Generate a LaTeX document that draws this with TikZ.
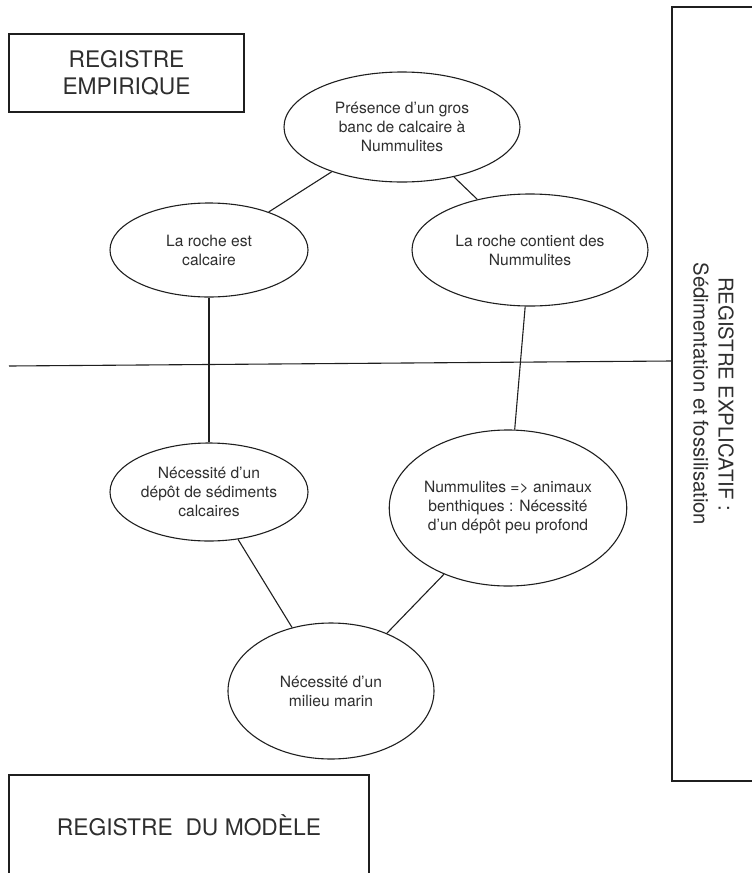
\documentclass[tikz,border=0pt]{standalone}
\usepackage{fontspec}
\setmainfont{TeX Gyre Heros}
\usetikzlibrary{shapes.geometric}
\colorlet{regink}{black!88}
\colorlet{regtext}{black!82}
\tikzset{
  regline/.style={line width=1.1pt,draw=regink},
  regbubble/.style={
    ellipse,
    regline,
    inner sep=0pt,
    align=center,
    text=regtext,
    font=\fontsize{15.6}{19}\selectfont
  },
  regframe/.style={
    rectangle,
    regline,
    inner sep=0pt,
    align=center,
    text=regtext,
    font=\fontsize{22.8}{26.5}\selectfont
  },
  reglink/.style={regline}
}

\begin{document}
\begin{tikzpicture}[x=1pt,y=-1pt]
  \useasboundingbox (0,0) rectangle (752,873);

  % the three registers
  \node[regframe,minimum width=235pt,minimum height=78pt] (empir) at (126.5,73)
    {REGISTRE\\EMPIRIQUE};
  \node[regframe,minimum width=360pt,minimum height=100pt] (model) at (189,825)
    {REGISTRE~ DU MODÈLE};
  \node[regframe,rotate=-90,minimum width=774pt,minimum height=83pt,
        font=\fontsize{20.3}{25}\selectfont] (explic) at (713.5,394)
    {REGISTRE EXPLICATIF :\\Sédimentation et fossilisation};

  \coordinate (sepL) at (9,366);
  \coordinate (sepR) at (672,361);
  \draw[regline] (sepL) -- (sepR);

  % reasoning bubbles
  \node[regbubble,minimum width=236pt,minimum height=110pt] (banc) at (402,127)
    {Présence d’un gros\\banc de calcaire à\\Nummulites};
  \node[regbubble,minimum width=198pt,minimum height=94pt] (calc) at (209,250)
    {La roche est\\calcaire};
  \node[regbubble,minimum width=236pt,minimum height=112pt] (numm) at (530,250)
    {La roche contient des\\Nummulites};
  \node[regbubble,minimum width=198pt,minimum height=98pt] (depot) at (209,492)
    {Nécessité d’un\\dépôt de sédiments\\calcaires};
  \node[regbubble,minimum width=234pt,minimum height=156pt] (benth) at (508,508)
    {Nummulites => animaux\\benthiques : Nécessité\\d’un dépôt peu profond};
  \node[regbubble,minimum width=206pt,minimum height=136pt] (marin) at (331,691)
    {Nécessité d’un\\milieu marin};

  \draw[reglink] (banc) -- (calc);
  \draw[reglink] (banc) -- (numm);
  \draw[reglink] (calc) -- (depot);
  \draw[reglink] (numm) -- (benth);
  \draw[reglink] (depot) -- (marin);
  \draw[reglink] (benth) -- (marin);
\end{tikzpicture}
\end{document}
